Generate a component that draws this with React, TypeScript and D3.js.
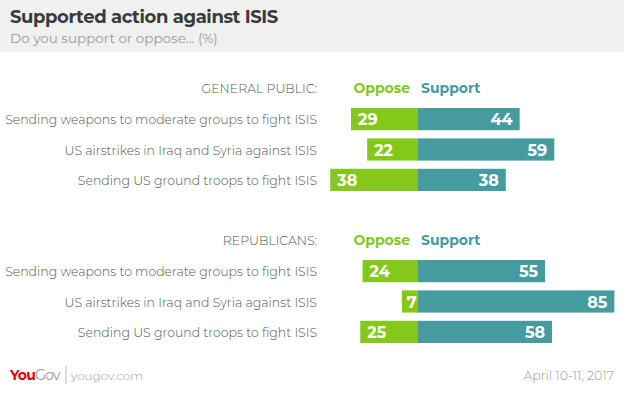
import React, { useEffect, useRef } from "react";
import * as d3 from "d3";

const questions = [
  "Sending weapons to moderate groups to fight ISIS",
  "US airstrikes in Iraq and Syria against ISIS",
  "Sending US ground troops to fight ISIS",
];
const groups = ["GENERAL PUBLIC:", "REPUBLICANS:"];
const opposeValues = [
  [29, 22, 38],
  [24, 7, 25],
];
const supportValues = [
  [44, 59, 38],
  [55, 85, 58],
];

const GREEN = "#84c81b";
const TEAL = "#459b9e";
const FONT = "Montserrat, 'Open Sans', sans-serif";

const App = () => {
  const ref = useRef(null);

  useEffect(() => {
    const width = 624;
    const height = 398;
    const svg = d3.select(ref.current);
    svg.selectAll("*").remove();
    svg.attr("width", width).attr("height", height).attr("viewBox", [0, 0, width, height]);

    const x = d3.scaleLinear().domain([-100, 100]).range([418 - 231, 418 + 231]);
    const groupTop = d3.scaleBand().domain(groups).range([70, 374]);

    // header band
    svg.append("rect").attr("width", width).attr("height", 52).attr("fill", "#f0f0f0");
    svg
      .append("text")
      .attr("x", 10)
      .attr("y", 23)
      .attr("font-family", FONT)
      .attr("font-size", 18)
      .attr("font-weight", 700)
      .attr("letter-spacing", -0.4)
      .attr("fill", "#3a3a3a")
      .text("Supported action against ISIS");
    svg
      .append("text")
      .attr("x", 10)
      .attr("y", 43)
      .attr("font-family", FONT)
      .attr("font-size", 13.5)
      .attr("fill", "#9a9a9a")
      .text("Do you support or oppose... (%)");

    groups.forEach((g, gi) => {
      const top = groupTop(g);
      const y = d3
        .scaleBand()
        .domain(questions)
        .range([top + 38, top + 121])
        .paddingInner(0.27)
        .paddingOuter(0);
      const layer = svg.append("g");

      layer
        .append("text")
        .attr("x", 317)
        .attr("y", top + 23)
        .attr("text-anchor", "end")
        .attr("font-family", FONT)
        .attr("font-size", 12.5)
        .attr("font-weight", 300)
        .attr("fill", "#555")
        .text(g);
      layer
        .append("text")
        .attr("x", 410)
        .attr("y", top + 23)
        .attr("text-anchor", "end")
        .attr("font-family", FONT)
        .attr("font-size", 14)
        .attr("font-weight", 700)
        .attr("fill", GREEN)
        .text("Oppose");
      layer
        .append("text")
        .attr("x", 421)
        .attr("y", top + 23)
        .attr("font-family", FONT)
        .attr("font-size", 14)
        .attr("font-weight", 700)
        .attr("fill", TEAL)
        .text("Support");

      questions.forEach((q, qi) => {
        const yy = y(q);
        const bh = y.bandwidth();
        const o = opposeValues[gi][qi];
        const s = supportValues[gi][qi];
        layer
          .append("text")
          .attr("x", 317)
          .attr("y", yy + bh / 2 + 5)
          .attr("text-anchor", "end")
          .attr("font-family", FONT)
          .attr("font-size", 12.5)
          .attr("font-weight", 300)
          .attr("fill", "#555")
          .text(q);
        layer
          .append("rect")
          .attr("x", x(-o))
          .attr("y", yy)
          .attr("width", x(0) - x(-o))
          .attr("height", bh)
          .attr("fill", GREEN);
        layer
          .append("rect")
          .attr("x", x(0))
          .attr("y", yy)
          .attr("width", x(s) - x(0))
          .attr("height", bh)
          .attr("fill", TEAL);
        layer
          .append("text")
          .attr("x", x(-o) + (o < 10 ? 5 : 7))
          .attr("y", yy + bh / 2 + 6)
          .attr("font-family", FONT)
          .attr("font-size", 16)
          .attr("font-weight", 700)
          .attr("fill", "#fff")
          .text(o);
        layer
          .append("text")
          .attr("x", x(s) - 7)
          .attr("y", yy + bh / 2 + 6)
          .attr("text-anchor", "end")
          .attr("font-family", FONT)
          .attr("font-size", 16)
          .attr("font-weight", 700)
          .attr("fill", "#fff")
          .text(s);
      });
    });

    // footer
    const logo = svg
      .append("text")
      .attr("x", 10)
      .attr("y", 380)
      .attr("font-family", FONT)
      .attr("font-size", 14)
      .attr("font-weight", 700)
      .attr("letter-spacing", -0.8);
    logo.append("tspan").attr("fill", "#e3000b").text("You");
    logo.append("tspan").attr("fill", "#999").attr("font-weight", 400).text("Gov");
    svg.append("line").attr("x1", 66).attr("x2", 66).attr("y1", 366).attr("y2", 384).attr("stroke", "#bbb");
    svg
      .append("text")
      .attr("x", 71)
      .attr("y", 380)
      .attr("font-family", FONT)
      .attr("font-size", 12)
      .attr("font-weight", 300)
      .attr("fill", "#999")
      .text("yougov.com");
    svg
      .append("text")
      .attr("x", 614)
      .attr("y", 380)
      .attr("text-anchor", "end")
      .attr("font-family", FONT)
      .attr("font-size", 12.5)
      .attr("font-weight", 300)
      .attr("fill", "#999")
      .text("April 10-11, 2017");
  }, []);

  return (
    <svg
      ref={ref}
      style={{ position: "absolute", left: 0, top: 0, display: "block" }}
    ></svg>
  );
};

export default App;
